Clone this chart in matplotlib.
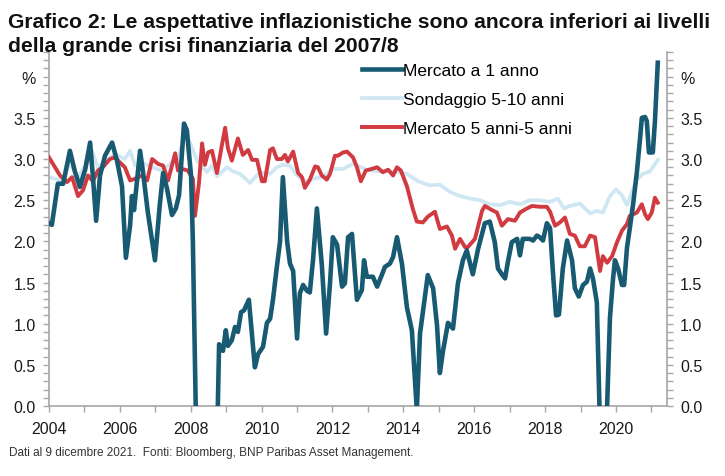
import matplotlib
matplotlib.use("Agg")
import matplotlib.pyplot as plt
from matplotlib import font_manager as fm
from matplotlib.ticker import MultipleLocator, FixedLocator, FuncFormatter

# ---------------- data ----------------
t_1y = [2004.00, 2004.08, 2004.25, 2004.40, 2004.59, 2004.73, 2004.87, 2005.02, 2005.16, 2005.24,
        2005.33, 2005.44, 2005.58, 2005.78, 2005.92, 2006.06, 2006.17, 2006.29, 2006.34, 2006.40,
        2006.57, 2006.65, 2006.79, 2006.99, 2007.13, 2007.22, 2007.33, 2007.47, 2007.58, 2007.67,
        2007.81, 2007.89, 2008.01, 2008.06, 2008.18, 2008.54, 2008.74, 2008.80, 2008.91, 2008.99,
        2009.05, 2009.16, 2009.25, 2009.33, 2009.42, 2009.50, 2009.64, 2009.81, 2009.90, 2010.04,
        2010.15, 2010.24, 2010.32, 2010.43, 2010.52, 2010.60, 2010.72, 2010.80, 2010.89, 2011.00,
        2011.08, 2011.17, 2011.28, 2011.36, 2011.45, 2011.56, 2011.70, 2011.82, 2011.93, 2012.01,
        2012.13, 2012.27, 2012.35, 2012.44, 2012.55, 2012.69, 2012.83, 2012.89, 2012.97, 2013.14,
        2013.26, 2013.40, 2013.48, 2013.62, 2013.71, 2013.82, 2013.96, 2014.10, 2014.24, 2014.38,
        2014.47, 2014.55, 2014.69, 2014.84, 2014.95, 2015.03, 2015.12, 2015.26, 2015.40, 2015.54,
        2015.68, 2015.79, 2015.96, 2016.11, 2016.30, 2016.44, 2016.58, 2016.67, 2016.78, 2016.87,
        2016.95, 2017.06, 2017.21, 2017.29, 2017.37, 2017.57, 2017.66, 2017.77, 2017.85, 2017.94,
        2018.05, 2018.14, 2018.22, 2018.31, 2018.39, 2018.50, 2018.62, 2018.76, 2018.84, 2018.95,
        2019.07, 2019.18, 2019.27, 2019.35, 2019.46, 2019.58, 2019.69, 2019.83, 2019.91, 2019.97,
        2020.06, 2020.17, 2020.23, 2020.31, 2020.39, 2020.48, 2020.59, 2020.68, 2020.73, 2020.82,
        2020.87, 2020.93, 2021.04, 2021.10, 2021.18]
v_1y = [2.22, 2.20, 2.70, 2.70, 3.10, 2.85, 2.66, 2.87, 3.20, 2.78,
        2.25, 2.80, 3.04, 3.20, 2.98, 2.67, 1.80, 2.20, 2.55, 2.38,
        3.10, 2.85, 2.35, 1.77, 2.46, 2.83, 2.64, 2.32, 2.40, 2.56,
        3.43, 3.35, 2.79, 2.00, -1.00, -1.20, -0.50, 0.75, 0.67, 0.92,
        0.73, 0.80, 0.96, 0.90, 1.14, 1.16, 1.29, 0.47, 0.63, 0.72,
        1.01, 1.06, 1.29, 1.69, 2.00, 2.78, 2.00, 1.73, 1.64, 0.82,
        1.37, 1.47, 1.40, 1.38, 1.77, 2.40, 1.71, 0.88, 1.49, 2.05,
        1.96, 1.45, 1.49, 2.05, 2.09, 1.29, 1.41, 1.77, 1.57, 1.57,
        1.45, 1.60, 1.69, 1.73, 1.81, 2.05, 1.73, 1.20, 0.92, -0.05,
        0.88, 1.14, 1.59, 1.43, 0.98, 0.40, 0.67, 1.01, 0.94, 1.49,
        1.77, 1.89, 1.60, 1.91, 2.22, 2.24, 1.99, 1.67, 1.60, 1.55,
        1.75, 1.99, 2.03, 1.83, 2.03, 2.03, 2.01, 2.07, 2.05, 2.01,
        2.22, 2.16, 1.63, 1.10, 1.11, 1.67, 2.01, 1.77, 1.43, 1.33,
        1.47, 1.51, 1.67, 1.55, 1.26, -0.80, -0.80, 1.07, 1.51, 1.77,
        1.67, 1.47, 1.47, 1.92, 2.16, 2.44, 2.84, 3.25, 3.50, 3.51,
        3.46, 3.08, 3.08, 3.46, 4.17]

t_survey = [2004.00, 2004.17, 2004.37, 2004.59, 2004.82, 2005.07, 2005.21, 2005.38, 2005.58, 2005.86,
            2006.14, 2006.29, 2006.43, 2006.62, 2006.91, 2007.19, 2007.47, 2007.64, 2007.84, 2007.98,
            2008.18, 2008.46, 2008.60, 2008.74, 2009.02, 2009.19, 2009.39, 2009.67, 2009.95, 2010.24,
            2010.43, 2010.60, 2010.80, 2011.00, 2011.28, 2011.45, 2011.73, 2012.01, 2012.30, 2012.58,
            2012.97, 2013.28, 2013.71, 2014.10, 2014.41, 2014.75, 2015.03, 2015.31, 2015.60, 2015.88,
            2016.16, 2016.44, 2016.73, 2017.01, 2017.29, 2017.57, 2017.85, 2018.14, 2018.36, 2018.53,
            2018.70, 2018.98, 2019.27, 2019.46, 2019.63, 2019.83, 2020.00, 2020.17, 2020.31, 2020.45,
            2020.59, 2020.76, 2020.96, 2021.18]
v_survey = [2.78, 2.76, 2.74, 2.95, 2.78, 2.95, 3.10, 2.90, 2.96, 3.06,
            3.00, 3.10, 2.92, 2.96, 2.90, 2.86, 2.96, 3.00, 3.30, 3.20,
            2.98, 2.84, 2.92, 2.79, 2.90, 2.85, 2.82, 2.71, 2.84, 2.82,
            2.90, 2.93, 2.92, 2.80, 2.72, 2.76, 2.78, 2.88, 2.88, 2.94,
            2.87, 2.85, 2.85, 2.82, 2.73, 2.68, 2.69, 2.60, 2.55, 2.52,
            2.50, 2.45, 2.44, 2.48, 2.45, 2.50, 2.50, 2.48, 2.52, 2.40,
            2.43, 2.46, 2.34, 2.37, 2.35, 2.55, 2.63, 2.56, 2.44, 2.60,
            2.75, 2.82, 2.85, 2.99]

t_5y5y = [2004.00, 2004.31, 2004.51, 2004.65, 2004.82, 2004.96, 2005.10, 2005.24, 2005.38, 2005.52,
          2005.72, 2005.86, 2005.95, 2006.14, 2006.29, 2006.43, 2006.62, 2006.77, 2006.91, 2007.08,
          2007.22, 2007.36, 2007.56, 2007.64, 2007.75, 2007.92, 2008.06, 2008.12, 2008.23, 2008.32,
          2008.40, 2008.49, 2008.60, 2008.74, 2008.88, 2008.97, 2009.05, 2009.16, 2009.33, 2009.47,
          2009.62, 2009.73, 2009.87, 2010.01, 2010.09, 2010.24, 2010.32, 2010.43, 2010.57, 2010.66,
          2010.74, 2010.89, 2011.03, 2011.14, 2011.22, 2011.36, 2011.51, 2011.59, 2011.70, 2011.84,
          2011.93, 2012.07, 2012.15, 2012.30, 2012.41, 2012.58, 2012.69, 2012.80, 2012.94, 2013.11,
          2013.26, 2013.42, 2013.57, 2013.71, 2013.82, 2013.93, 2014.10, 2014.27, 2014.38, 2014.55,
          2014.69, 2014.89, 2015.03, 2015.23, 2015.37, 2015.46, 2015.60, 2015.74, 2015.82, 2016.02,
          2016.22, 2016.30, 2016.50, 2016.64, 2016.78, 2016.95, 2017.15, 2017.29, 2017.49, 2017.63,
          2017.85, 2018.05, 2018.14, 2018.28, 2018.42, 2018.56, 2018.70, 2018.84, 2018.98, 2019.12,
          2019.27, 2019.41, 2019.55, 2019.63, 2019.75, 2019.89, 2020.03, 2020.17, 2020.31, 2020.39,
          2020.59, 2020.73, 2020.82, 2020.90, 2021.01, 2021.10, 2021.18]
v_5y5y = [3.02, 2.80, 2.72, 2.78, 2.55, 2.62, 2.80, 2.73, 2.86, 2.90,
          3.00, 3.02, 2.98, 2.90, 2.74, 2.76, 2.80, 2.74, 3.00, 2.94,
          2.92, 2.74, 3.07, 2.86, 2.88, 2.86, 2.76, 2.31, 2.70, 3.19,
          2.93, 3.08, 3.10, 2.83, 3.17, 3.38, 3.13, 2.98, 3.25, 3.05,
          3.11, 2.99, 2.99, 2.73, 2.73, 3.11, 3.13, 3.00, 3.00, 3.05,
          2.97, 3.09, 2.83, 2.78, 2.65, 2.75, 2.91, 2.90, 2.80, 2.75,
          2.82, 3.04, 3.04, 3.08, 3.09, 3.02, 2.90, 2.73, 2.86, 2.88,
          2.90, 2.84, 2.87, 2.80, 2.90, 2.86, 2.67, 2.39, 2.24, 2.23,
          2.30, 2.36, 2.15, 2.18, 2.07, 1.91, 2.03, 1.93, 1.93, 2.03,
          2.37, 2.43, 2.38, 2.35, 2.19, 2.27, 2.25, 2.35, 2.40, 2.43,
          2.42, 2.42, 2.36, 2.19, 2.23, 2.29, 2.09, 2.07, 1.94, 1.94,
          2.07, 2.05, 1.64, 1.82, 1.74, 1.82, 1.99, 2.13, 2.21, 2.31,
          2.35, 2.45, 2.33, 2.27, 2.35, 2.53, 2.47]

labels = ["Mercato a 1 anno", "Sondaggio 5-10 anni", "Mercato 5 anni-5 anni"]
x_tick_years = [2004, 2006, 2008, 2010, 2012, 2014, 2016, 2018, 2020]
y_ticks = [0.0, 0.5, 1.0, 1.5, 2.0, 2.5, 3.0, 3.5, 4.0]

title1 = "Grafico 2: Le aspettative inflazionistiche sono ancora inferiori ai livelli"
title2 = "della grande crisi finanziaria del 2007/8"
footnote = "Dati al 9 dicembre 2021.  Fonti: Bloomberg, BNP Paribas Asset Management."

# ---------------- styling ----------------
C_1Y = "#175a72"
C_SURVEY = "#cfe7f3"
C_5Y5Y = "#d13a40"
GRAY = "#a6a6a6"


def pick(fams):
    for f in fams:
        try:
            fm.findfont(fm.FontProperties(family=f), fallback_to_default=False)
            return f
        except Exception:
            pass
    return "DejaVu Sans"


NARROW = pick(["Liberation Sans Narrow", "Arial Narrow", "Liberation Sans"])
is_narrow = "Narrow" in NARROW
plt.rcParams["font.family"] = [NARROW, "DejaVu Sans"]

W, H = 725, 477
fig = plt.figure(figsize=(W / 100, H / 100), dpi=100)
L, R, B, T = 49, 667, 407, 53
ax = fig.add_axes([L / W, 1 - B / H, (R - L) / W, (B - T) / H])

ax.plot(t_survey, v_survey, color=C_SURVEY, lw=2.7, label=labels[1], zorder=2,
        solid_joinstyle="round")
ax.plot(t_5y5y, v_5y5y, color=C_5Y5Y, lw=2.8, label=labels[2], zorder=3,
        solid_joinstyle="round")
ax.plot(t_1y, v_1y, color=C_1Y, lw=3.3, label=labels[0], zorder=4,
        solid_joinstyle="round")

ax.set_xlim(2004, 2021.44)
ax.set_ylim(0, 4.3)

ax.spines["top"].set_visible(False)
for s in ["left", "right", "bottom"]:
    ax.spines[s].set_color(GRAY)
    ax.spines[s].set_linewidth(1.2)

tick_fs = 13 if is_narrow else 11.5
ax.xaxis.set_major_locator(FixedLocator(x_tick_years))
ax.xaxis.set_minor_locator(MultipleLocator(1))
ax.set_xticklabels([str(y) for y in x_tick_years])
ax.yaxis.set_major_locator(FixedLocator(y_ticks))
ax.yaxis.set_minor_locator(MultipleLocator(0.1))
ax.yaxis.set_major_formatter(FuncFormatter(lambda v, p: "%" if abs(v - 4.0) < 1e-6 else f"{v:.1f}"))
ax.tick_params(axis="both", which="both", direction="out", color=GRAY, width=1.0,
               labelsize=tick_fs, labelcolor="#1a1a1a")
ax.tick_params(axis="y", which="both", left=True, right=True, labelleft=True, labelright=True,
               length=4.5)
ax.tick_params(axis="y", which="major", pad=5)
ax.tick_params(axis="x", which="both", length=4.5, pad=6)

# legend
leg_fs = 13 if is_narrow else 12.5
leg = ax.legend(handles=[ax.lines[2], ax.lines[0], ax.lines[1]], labels=labels,
                loc="upper left", bbox_to_anchor=(362 / W, 1 - 64 / H),
                bbox_transform=fig.transFigure, frameon=False, fontsize=leg_fs,
                handlelength=2.3, handletextpad=0.05, labelspacing=0.8, borderaxespad=0,
                borderpad=0)

# titles and footnote
t1 = fig.text(8 / W, 1 - 22 / H, title1, fontsize=19, fontweight="bold", va="center",
              ha="left", color="#111111")
t2 = fig.text(8 / W, 1 - 47 / H, title2, fontsize=19, fontweight="bold", va="center",
              ha="left", color="#111111")
fn = fig.text(9 / W, 1 - 453 / H, footnote, fontsize=9.5, va="center", ha="left",
              color="#333333")

fig.canvas.draw()
r = fig.canvas.get_renderer()
w1 = t1.get_window_extent(r).width
s = 704 / w1
t1.set_fontsize(19 * s)
t2.set_fontsize(19 * s)
wf = fn.get_window_extent(r).width
fn.set_fontsize(9.5 * 404 / wf)

fig.savefig("out.png", dpi=100)
